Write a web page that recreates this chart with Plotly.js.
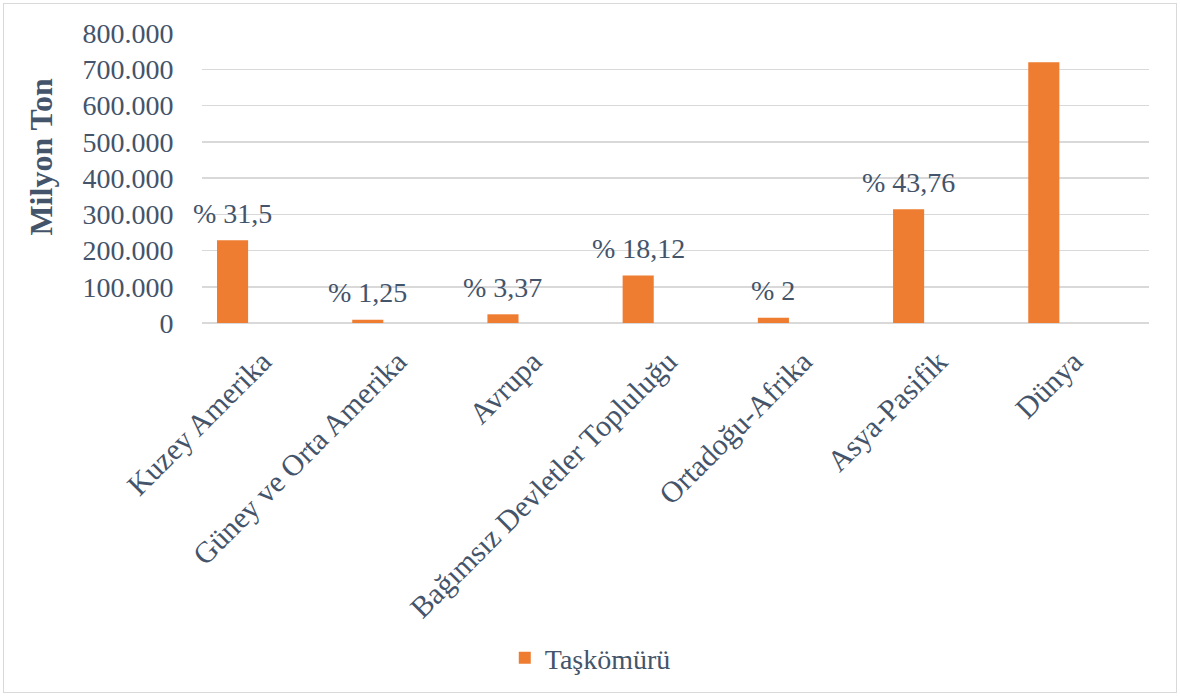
<!DOCTYPE html>
<html>
<head>
<meta charset="utf-8">
<script src="https://cdn.plot.ly/plotly-3.0.1.min.js"></script>
<style>
  html, body { margin: 0; padding: 0; background: #ffffff; }
  #frame { position: absolute; left: 3px; top: 3px; width: 1172px; height: 688px; border: 1px solid #d9d9d9; }
  #chart { position: absolute; left: 0; top: 0; width: 1180px; height: 696px; }
</style>
</head>
<body>
<div id="frame"></div>
<div id="chart"></div>
<script>
const categories = ["Kuzey Amerika", "Güney ve Orta Amerika", "Avrupa", "Bağımsız Devletler Topluluğu", "Ortadoğu-Afrika", "Asya-Pasifik", "Dünya"];
const values = [228000, 9000, 24000, 131000, 14500, 314000, 719000];
const pctLabels = ["% 31,5", "% 1,25", "% 3,37", "% 18,12", "% 2", "% 43,76", ""];
const seriesName = "Taşkömürü";
const yTicks = [0, 100000, 200000, 300000, 400000, 500000, 600000, 700000, 800000];
const yTitle = "Milyon Ton";

const textColor = "#44546A";
const fontFam = "'Liberation Serif', 'Times New Roman', serif";

const trace = {
  type: "bar",
  x: categories,
  y: values,
  name: seriesName,
  marker: { color: "#EE7D31" },
  hoverinfo: "none",
  showlegend: true
};

const annotations = categories.map((c, i) => ({
  x: c, y: values[i], xref: "x", yref: "y",
  text: pctLabels[i], showarrow: false,
  yanchor: "middle", yshift: 27,
  font: { family: fontFam, size: 28, color: textColor }
})).filter((a, i) => pctLabels[i] !== "");

annotations.push({
  xref: "paper", yref: "paper", x: -0.171, y: 0.574,
  xanchor: "center", yanchor: "middle",
  text: "<b>" + yTitle + "</b>", textangle: -90, showarrow: false,
  font: { family: fontFam, size: 32, color: textColor }
});

const layout = {
  width: 1180, height: 696,
  paper_bgcolor: "rgba(0,0,0,0)",
  plot_bgcolor: "rgba(0,0,0,0)",
  separators: ",.",
  margin: { l: 202, r: 31, t: 33, b: 373, autoexpand: false },
  bargap: 0.77,
  font: { family: fontFam, size: 28, color: textColor },
  xaxis: {
    type: "category",
    range: [-0.226, 6.778],
    tickangle: -45,
    ticklabelshift: 30,
    tickfont: { family: fontFam, size: 30, color: textColor },
    showgrid: false,
    showline: false,
    zeroline: false,
    ticks: "outside", ticklen: 8, tickcolor: "rgba(0,0,0,0)",
    automargin: false
  },
  yaxis: {
    range: [0, 800000],
    tickvals: yTicks,
    tickformat: ",d",
    tickfont: { family: fontFam, size: 28, color: textColor },
    gridcolor: "#d9d9d9", gridwidth: 1.5,
    zeroline: true, zerolinecolor: "#d9d9d9", zerolinewidth: 1.5,
    showline: false,
    ticks: "outside", ticklen: 22, tickcolor: "rgba(0,0,0,0)",
    automargin: false
  },
  legend: {
    orientation: "h",
    x: 0.41, xanchor: "center",
    y: -1.155, yanchor: "middle",
    font: { family: fontFam, size: 28, color: textColor },
    bgcolor: "rgba(0,0,0,0)"
  },
  annotations: annotations
};

Plotly.newPlot("chart", [trace], layout, { displayModeBar: false, staticPlot: true });
</script>
</body>
</html>
